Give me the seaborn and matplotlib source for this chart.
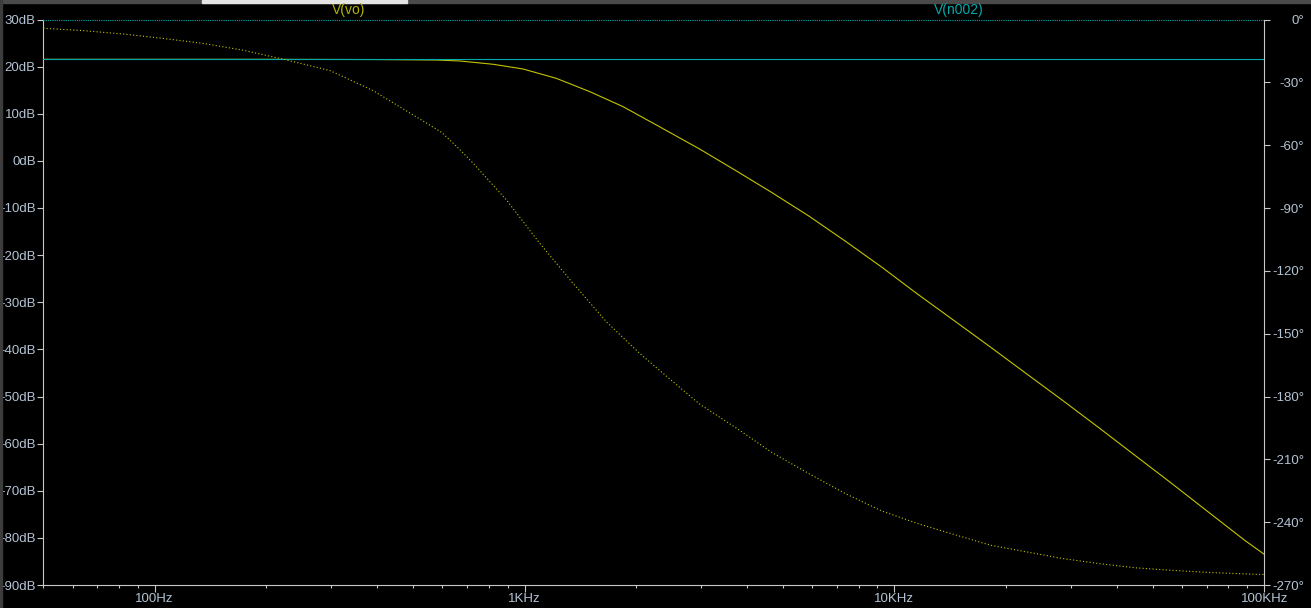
import matplotlib.pyplot as plt
import matplotlib.ticker as mticker
from matplotlib.patches import Rectangle
import seaborn as sns
import pandas as pd

# V(vo) magnitude (dB) vs frequency (Hz)
mag_freq = [50, 200, 400, 580, 668, 822, 991, 1220, 1500, 1847, 2274, 2977, 3732,
            4681, 5869, 7356, 9225, 11565, 14505, 18175, 22780, 28575, 35815,
            44895, 56300, 70550, 88450, 100000]
vo_db = [21.55, 21.55, 21.5, 21.4, 21.2, 20.5, 19.5, 17.5, 14.7, 11.5, 7.6, 2.5, -2.1,
         -6.8, -11.7, -17.0, -22.5, -28.3, -33.9, -39.5, -45.2, -50.9, -56.7,
         -62.6, -68.5, -74.5, -80.5, -83.5]

# V(vo) phase (deg) vs frequency (Hz)
phase_freq = [50, 64, 82, 105, 135, 174, 227, 298, 390, 500, 597, 663, 727, 894, 1100,
              1353, 1666, 2050, 2522, 2977, 3732, 4681, 5869, 7356, 9225, 11565,
              14505, 18175, 22780, 28575, 35815, 44895, 56300, 70550, 88450, 100000]
vo_deg = [-4.2, -5.3, -6.9, -9.0, -11.4, -14.7, -19.3, -24.4, -34.0, -45.6, -53.9, -61.5,
          -68.7, -86.2, -106.9, -126.0, -144.4, -159.5, -173.0, -183.7, -195.0, -206.9,
          -216.8, -226.3, -234.6, -240.7, -245.9, -251.0, -254.2, -257.4, -259.8,
          -261.8, -263.0, -264.0, -264.7, -265.0]

# V(n002): flat input
n002_freq = [50, 100000]
n002_db = [21.55, 21.55]
n002_deg = [0, 0]

db_ticks = list(range(-90, 31, 10))
deg_ticks = list(range(-270, 1, 30))
hz_ticks = [100, 1000, 10000, 100000]
hz_labels = ["100Hz", "1KHz", "10KHz", "100KHz"]

YELLOW = "#c4c400"
TEAL = "#00aaaa"
AXIS = "#c8c8c8"
TXT = "#b4c4d4"

sns.set_style("dark")
plt.rcParams['font.family'] = ['Liberation Sans', 'DejaVu Sans']
plt.rcParams['axes.unicode_minus'] = False

fig = plt.figure(figsize=(13.11, 6.08), dpi=100, facecolor="black")
ax = fig.add_axes([43.3 / 1311, 1 - 585 / 608, (1264.3 - 43.3) / 1311, (585 - 19.5) / 608])
ax.set_facecolor("black")
ax2 = ax.twinx()
ax2.patch.set_visible(False)

mag = pd.DataFrame({"f": mag_freq, "db": vo_db})
ph = pd.DataFrame({"f": phase_freq, "deg": vo_deg})

sns.lineplot(data=mag, x="f", y="db", ax=ax, color=YELLOW, linewidth=0.8, zorder=2)
sns.lineplot(x=n002_freq, y=n002_db, ax=ax, color=TEAL, linewidth=0.8, zorder=3)
sns.lineplot(data=ph, x="f", y="deg", ax=ax2, color=YELLOW, linewidth=0.8,
             linestyle=(0, (1, 2)))
sns.lineplot(x=n002_freq, y=n002_deg, ax=ax2, color=TEAL, linewidth=0.8,
             linestyle=(0, (1, 1)), clip_on=False)

for a in (ax, ax2):
    a.set_xscale("log")
    a.set_xlim(50, 100000)
    a.set_xlabel("")
    a.set_ylabel("")
    a.grid(False)
    for s in a.spines.values():
        s.set_color(AXIS)
        s.set_linewidth(0.8)
    a.spines["top"].set_visible(False)

ax.set_ylim(-90, 30)
ax2.set_ylim(-270, 0)
ax.spines["right"].set_visible(False)
ax2.spines["left"].set_visible(False)
ax2.spines["bottom"].set_visible(False)

ax.set_yticks(db_ticks)
ax.set_yticklabels([f"{v}dB" for v in db_ticks])
ax2.set_yticks(deg_ticks)
ax2.set_yticklabels([f"{v}\u00b0" for v in deg_ticks])
ax.set_xticks(hz_ticks)
ax.set_xticklabels(hz_labels)
ax.xaxis.set_minor_locator(mticker.LogLocator(base=10, subs=range(2, 10), numticks=20))
ax.xaxis.set_minor_formatter(mticker.NullFormatter())

ax.tick_params(axis="y", direction="out", length=4.5, width=0.8, color=AXIS,
               labelcolor=TXT, labelsize=9.5, pad=1, left=True)
ax.tick_params(axis="x", which="major", direction="out", length=5, width=0.8, color=AXIS,
               labelcolor=TXT, labelsize=9.5, pad=1, bottom=True)
ax.tick_params(axis="x", which="minor", direction="out", length=2, width=0.8, color=AXIS,
               bottom=True)
ax2.tick_params(axis="y", direction="out", length=4.5, width=0.8, color=AXIS,
                labelcolor=TXT, labelsize=9.5, pad=24, right=True)
for lab in ax2.get_yticklabels():
    lab.set_horizontalalignment("right")

fig.text(348.5 / 1311, 1 - 10 / 608, "V(vo)", color="#b4b400", fontsize=10,
         ha="center", va="center")
fig.text(958.5 / 1311, 1 - 10 / 608, "V(n002)", color=TEAL, fontsize=10,
         ha="center", va="center")

# window frame bits along the top and left edges
fig.patches.append(Rectangle((0, 1 - 3 / 608), 1, 3 / 608, transform=fig.transFigure,
                             color="#4a4a4a", zorder=0))
fig.patches.append(Rectangle((202 / 1311, 1 - 3 / 608), 205 / 1311, 3 / 608,
                             transform=fig.transFigure, color="#e4e4e4", zorder=1))
fig.patches.append(Rectangle((0, 0), 2 / 1311, 1, transform=fig.transFigure,
                             color="#3c3c3c", zorder=0))

fig.savefig("out.png", dpi=100, facecolor="black")
